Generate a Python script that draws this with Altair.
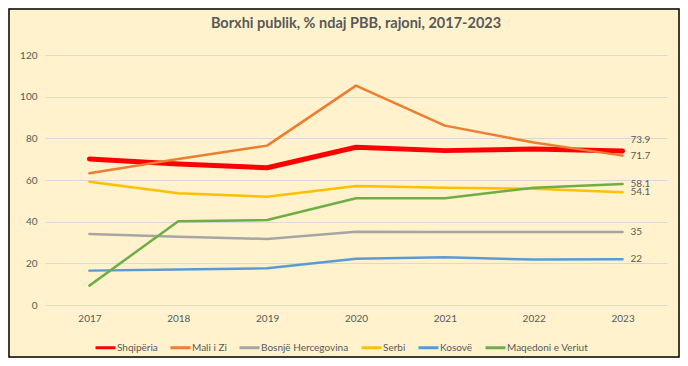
import altair as alt
import pandas as pd

years = [2017, 2018, 2019, 2020, 2021, 2022, 2023]
countries = ["Shqipëria", "Mali i Zi", "Bosnjë Hercegovina", "Serbi", "Kosovë", "Maqedoni e Veriut"]
colors = ["#FF0000", "#ED7D31", "#A5A5A5", "#FFC000", "#5B9BD5", "#70AD47"]

shqiperia = [70.1, 67.7, 65.9, 75.7, 74.1, 74.9, 73.9]
mali_i_zi = [63.2, 70.1, 76.5, 105.3, 86.1, 78.0, 71.7]
bosnje = [34.1, 32.8, 31.7, 35.2, 35.1, 35.0, 35.0]
serbi = [59.2, 53.6, 52.0, 57.1, 56.3, 55.8, 54.1]
kosove = [16.5, 17.0, 17.6, 22.2, 22.9, 21.8, 22.0]
maqedoni = [9.3, 40.2, 40.8, 51.2, 51.2, 56.3, 58.1]
end_labels = ["73.9", "71.7", "35", "54.1", "22", "58.1"]

series = [shqiperia, mali_i_zi, bosnje, serbi, kosove, maqedoni]
rows = []
for ci, (c, vals) in enumerate(zip(countries, series)):
    for y, v in zip(years, vals):
        rows.append({"country": c, "year": str(y), "value": v, "order": ci,
                     "thick": 5 if c == "Shqipëria" else 2.5})
df = pd.DataFrame(rows)

lab = pd.DataFrame({"country": countries, "year": ["2023"] * 6,
                    "value": [s[-1] for s in series], "label": end_labels})

W, H = 622, 250
PL, PT, PR, PB = 37, 47, 13, 53
FONT = "Lato"
GREY = "#595959"

x = alt.X("year:O", scale=alt.Scale(type="point", padding=0.5),
          axis=alt.Axis(title=None, labelAngle=0, domain=False, ticks=False, grid=False,
                        labelPadding=8, labelFontSize=10, labelColor=GREY, labelFont=FONT))
y = alt.Y("value:Q", scale=alt.Scale(domain=[0, 120]),
          axis=alt.Axis(title=None, values=[0, 20, 40, 60, 80, 100, 120], domain=False, ticks=False,
                        gridColor="#D9D9D9", gridWidth=1, labelPadding=8, labelFontSize=10,
                        labelColor=GREY, labelFont=FONT))

frame = alt.Chart(pd.DataFrame({"a": [0]})).mark_rect(
    fill=None, stroke="#000000", strokeWidth=1.5
).encode(x=alt.value(-PL + 1), x2=alt.value(W + PR - 1), y=alt.value(-PT + 1), y2=alt.value(H + PB - 1))

lines = alt.Chart(df).mark_line(strokeCap="round", strokeJoin="round").encode(
    x=x, y=y,
    color=alt.Color("country:N", scale=alt.Scale(domain=countries, range=colors),
                    legend=alt.Legend(title=None, orient="none", legendX=49, legendY=281,
                                      direction="horizontal", symbolType="stroke",
                                      symbolSize=400, symbolStrokeWidth=3,
                                      labelFontSize=10, labelColor=GREY, labelFont=FONT,
                                      labelOffset=0, columnPadding=6, padding=0)),
    strokeWidth=alt.StrokeWidth("thick:Q", scale=None, legend=None),
    detail="country:N",
    order="order:Q",
)

texts_main = alt.Chart(lab).transform_filter(alt.datum.country != "Shqipëria").mark_text(
    align="left", baseline="middle", dx=8, fontSize=10, color=GREY, font=FONT
).encode(x=x, y=y, text="label:N")
texts_top = alt.Chart(lab).transform_filter(alt.datum.country == "Shqipëria").mark_text(
    align="left", baseline="middle", dx=8, dy=-11, fontSize=10, color=GREY, font=FONT
).encode(x=x, y=y, text="label:N")

chart = alt.layer(frame, lines, texts_main, texts_top).properties(
    width=W, height=H,
    title=alt.TitleParams("Borxhi publik, % ndaj PBB, rajoni, 2017-2023", fontSize=14.5,
                          fontWeight="bold", color=GREY, font=FONT, anchor="middle", offset=-23),
    autosize=alt.AutoSizeParams(type="none"),
    padding={"left": PL, "top": PT, "right": PR, "bottom": PB},
    background="#FFF2CC",
).configure_view(stroke=None)

chart.save("out.html", embed_options={"renderer": "svg", "actions": False})
